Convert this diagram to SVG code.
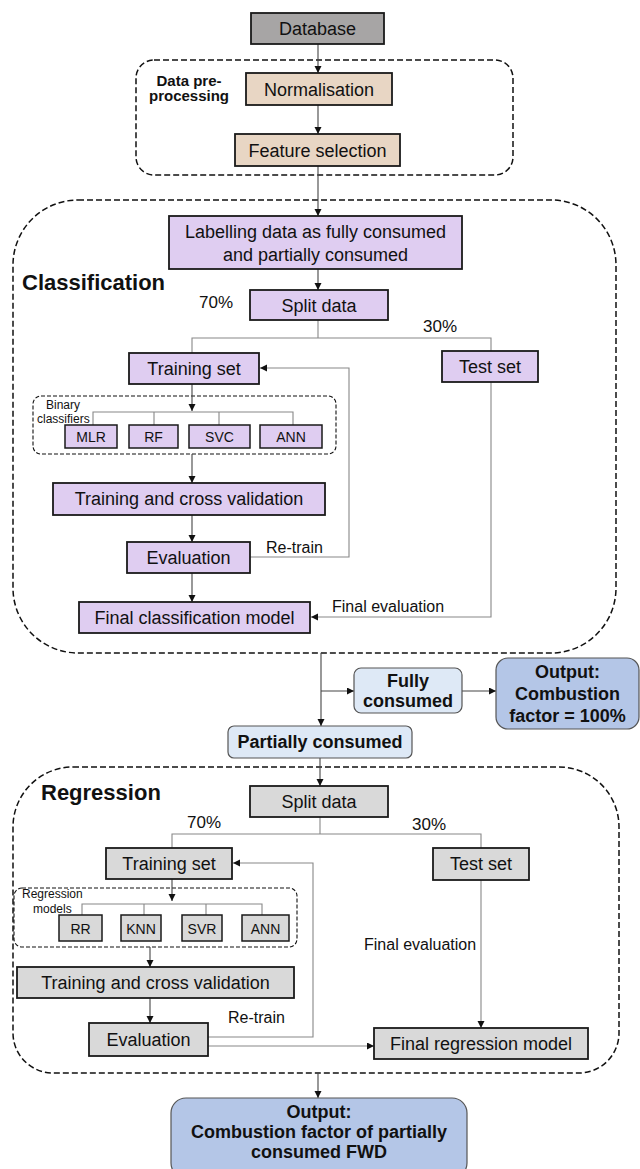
<svg xmlns="http://www.w3.org/2000/svg" width="640" height="1169" viewBox="0 0 640 1169">
<style>
text{font-family:"Liberation Sans",Arial,sans-serif;fill:#111}
.t{font-size:18px;text-anchor:middle}
.tb{font-size:18px;font-weight:bold;text-anchor:middle}
.s{font-size:14px;text-anchor:middle}
.sm{font-size:12px}
.lbl{font-size:16px}
.pct{font-size:17px}
.hd{font-size:22px;font-weight:bold}
.box{stroke:#1a1a1a;stroke-width:1.8}
.db{fill:#a7a5a5}
.bg{fill:#e8d6c4}
.pu{fill:#dfcdf1}
.gr{fill:#d9d9d9}
.lb{fill:#dee9f6;stroke:#555;stroke-width:1.2}
.ob{fill:#b4c6e7;stroke:#555;stroke-width:1.2}
.dash{fill:none;stroke:#111;stroke-width:1.5;stroke-dasharray:6 3}
.dash2{fill:none;stroke:#111;stroke-width:1.1;stroke-dasharray:4 2}
.c{fill:none;stroke:#444;stroke-width:1.1}
.cg{fill:none;stroke:#888;stroke-width:1.1}
.a{marker-end:url(#arr)}
</style>
<defs>
<marker id="arr" markerUnits="userSpaceOnUse" markerWidth="8" markerHeight="8" refX="7" refY="3.5" orient="auto">
<path d="M0,0 L7,3.5 L0,7 z" fill="#111"/>
</marker>
</defs>

<g id="groups">
<rect id="g-preprocessing" class="dash" x="136" y="60" width="377" height="115" rx="18"/>
<rect id="g-classification" class="dash" x="13" y="200" width="603" height="453" rx="65"/>
<rect id="g-binary" class="dash2" x="33" y="396" width="303" height="58" rx="8"/>
<path id="g-regression" class="dash" d="M73,767 H559 A60,60 0 0 1 619,827 V1033 A40,40 0 0 1 579,1073 H53 A40,40 0 0 1 13,1033 V827 A60,60 0 0 1 73,767 Z"/>
<rect id="g-regmodels" class="dash2" x="14" y="888" width="283" height="59" rx="8"/>
<text x="189" y="86" style="font-size:15px;font-weight:bold;text-anchor:middle">Data pre-</text>
<text x="189" y="101" style="font-size:15px;font-weight:bold;text-anchor:middle">processing</text>
<text class="hd" x="22" y="290">Classification</text>
<text class="hd" x="41" y="800">Regression</text>
<text class="sm" x="46" y="409">Binary</text>
<text class="sm" x="37" y="423">classifiers</text>
<text class="sm" x="22" y="898">Regression</text>
<text class="sm" x="33" y="913">models</text>
</g>

<g id="connectors">
<path class="c a" d="M318,44 V73"/>
<path class="c a" d="M318,105 V134"/>
<path class="c a" d="M318,166 V216"/>
<path class="c a" d="M318,269 V290"/>
<path class="cg" d="M318,320 V338"/>
<path class="cg" d="M192,353 V338 H491 V351"/>
<path class="c a" d="M192,384 V411"/>
<path class="cg" d="M93,425 V412 H293 V425 M154,412 V425 M219,412 V425"/>
<path class="c a" d="M192,454 V483"/>
<path class="c a" d="M192,515 V542"/>
<path class="c a" d="M192,573 V602"/>
<path class="cg a" d="M250,557 H349 V368 H260"/>
<path class="cg a" d="M491,382 V617 H311"/>
<path class="c a" d="M321,653 V726"/>
<path class="c a" d="M321,691 H354"/>
<path class="c a" d="M462,691 H496"/>
<path class="c a" d="M320,758 V786"/>
<path class="cg" d="M320,817 V834"/>
<path class="cg" d="M172,848 V834 H481 V848"/>
<path class="c a" d="M172,879 V901"/>
<path class="cg" d="M82,915 V904 H262 V915 M144,904 V915 M206,904 V915"/>
<path class="c a" d="M150,947 V967"/>
<path class="c a" d="M150,998 V1023"/>
<path class="cg a" d="M208,1037 H313 V863 H233"/>
<path class="cg a" d="M208,1046 H374"/>
<path class="cg a" d="M481,880 V1028"/>
<path class="c a" d="M318,1073 V1098"/>
<text class="pct" x="199" y="308">70%</text>
<text class="pct" x="423" y="332">30%</text>
<text class="lbl" x="266" y="553">Re-train</text>
<text class="lbl" x="332" y="612">Final evaluation</text>
<text class="pct" x="187" y="828">70%</text>
<text class="pct" x="412" y="830">30%</text>
<text class="lbl" x="228" y="1023">Re-train</text>
<text class="lbl" x="364" y="950">Final evaluation</text>
</g>

<g id="n-database"><rect class="box db" x="251" y="13" width="133" height="31"/><text class="t" x="317.5" y="35">Database</text></g>
<g id="n-normalisation"><rect class="box bg" x="246" y="73" width="146" height="32"/><text class="t" x="319" y="96">Normalisation</text></g>
<g id="n-featsel"><rect class="box bg" x="235" y="134" width="165" height="32"/><text class="t" x="317.5" y="157">Feature selection</text></g>

<g id="n-labelling"><rect class="box pu" x="169" y="216" width="293" height="53"/><text class="t" x="315.5" y="238">Labelling data as fully consumed</text><text class="t" x="315.5" y="261">and partially consumed</text></g>
<g id="n-c-split"><rect class="box pu" x="250" y="290" width="138" height="30"/><text class="t" x="319" y="312">Split data</text></g>
<g id="n-c-train"><rect class="box pu" x="129" y="353" width="130" height="31"/><text class="t" x="194" y="375">Training set</text></g>
<g id="n-c-test"><rect class="box pu" x="442" y="351" width="96" height="31"/><text class="t" x="490" y="373">Test set</text></g>
<g id="n-mlr"><rect class="box pu" x="65" y="425" width="52" height="23" style="stroke-width:1.5"/><text class="s" x="91" y="442">MLR</text></g>
<g id="n-rf"><rect class="box pu" x="129" y="425" width="49" height="23" style="stroke-width:1.5"/><text class="s" x="153.5" y="442">RF</text></g>
<g id="n-svc"><rect class="box pu" x="189" y="425" width="61" height="23" style="stroke-width:1.5"/><text class="s" x="219.5" y="442">SVC</text></g>
<g id="n-c-ann"><rect class="box pu" x="260" y="425" width="62" height="23" style="stroke-width:1.5"/><text class="s" x="291" y="442">ANN</text></g>
<g id="n-c-tcv"><rect class="box pu" x="53" y="483" width="272" height="32"/><text class="t" x="189" y="505">Training and cross validation</text></g>
<g id="n-c-eval"><rect class="box pu" x="127" y="542" width="123" height="31"/><text class="t" x="188.5" y="564">Evaluation</text></g>
<g id="n-c-final"><rect class="box pu" x="79" y="602" width="231" height="31"/><text class="t" x="194.5" y="624">Final classification model</text></g>

<g id="n-fully"><rect class="lb" x="354" y="668" width="108" height="45" rx="7"/><text class="tb" x="408" y="687">Fully</text><text class="tb" x="408" y="707">consumed</text></g>
<g id="n-out1"><rect class="ob" x="496" y="658" width="143" height="71" rx="12"/><text class="tb" x="567.5" y="678">Output:</text><text class="tb" x="567.5" y="700">Combustion</text><text class="tb" x="567.5" y="722">factor = 100%</text></g>
<g id="n-partial"><rect class="lb" x="228" y="726" width="184" height="32" rx="6"/><text class="tb" x="320" y="748">Partially consumed</text></g>

<g id="n-r-split"><rect class="box gr" x="250" y="786" width="138" height="31"/><text class="t" x="319" y="808">Split data</text></g>
<g id="n-r-train"><rect class="box gr" x="106" y="848" width="126" height="31"/><text class="t" x="169" y="870">Training set</text></g>
<g id="n-r-test"><rect class="box gr" x="433" y="848" width="96" height="32"/><text class="t" x="481" y="870">Test set</text></g>
<g id="n-rr"><rect class="box gr" x="59" y="915" width="43" height="26" style="stroke-width:1.5"/><text class="s" x="80.5" y="934">RR</text></g>
<g id="n-knn"><rect class="box gr" x="121" y="915" width="40" height="26" style="stroke-width:1.5"/><text class="s" x="141" y="934">KNN</text></g>
<g id="n-svr"><rect class="box gr" x="182" y="915" width="40" height="26" style="stroke-width:1.5"/><text class="s" x="202" y="934">SVR</text></g>
<g id="n-r-ann"><rect class="box gr" x="242" y="915" width="47" height="26" style="stroke-width:1.5"/><text class="s" x="265.5" y="934">ANN</text></g>
<g id="n-r-tcv"><rect class="box gr" x="17" y="967" width="277" height="31"/><text class="t" x="155.5" y="989">Training and cross validation</text></g>
<g id="n-r-eval"><rect class="box gr" x="89" y="1023" width="119" height="33"/><text class="t" x="148.5" y="1046">Evaluation</text></g>
<g id="n-r-final"><rect class="box gr" x="374" y="1028" width="214" height="31"/><text class="t" x="481" y="1050">Final regression model</text></g>

<g id="n-out2"><rect class="ob" x="171" y="1098" width="296" height="80" rx="15"/><text class="tb" x="319" y="1118">Output:</text><text class="tb" x="319" y="1138">Combustion factor of partially</text><text class="tb" x="319" y="1158">consumed FWD</text></g>
</svg>
